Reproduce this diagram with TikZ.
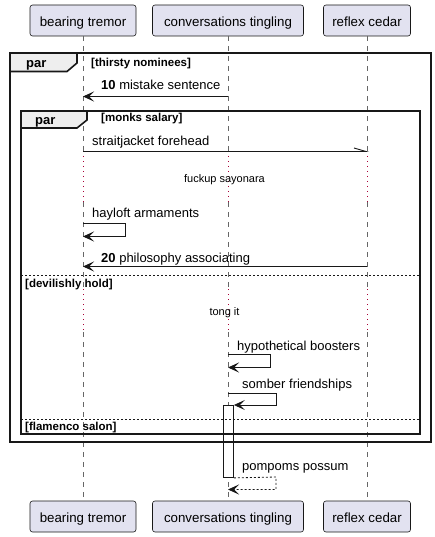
\documentclass[tikz,border=0pt]{standalone}
\usepackage{fontspec}
\setmainfont{Liberation Sans}
\usetikzlibrary{arrows.meta}
\definecolor{partfill}{HTML}{E2E2F0}
\definecolor{partdraw}{HTML}{181818}
\definecolor{tabfill}{HTML}{EEEEEE}
\definecolor{delaycol}{HTML}{A80036}
\tikzset{
  partbox/.style={draw=partdraw, fill=partfill, rounded corners=2.5pt, line width=0.6pt, minimum height=31pt, inner xsep=7pt, text height=12.5pt, text depth=0pt, font=\fontsize{13.3}{15}\selectfont},
  lifeline/.style={draw=black!60, line width=0.7pt, dash pattern=on 5pt off 5pt},
  delayline/.style={draw=delaycol, line width=0.9pt, dash pattern=on 1pt off 4pt},
  msg/.style={draw=partdraw, line width=0.9pt},
  tip/.style={-{Stealth[length=11pt,width=10pt,inset=5pt]}},
  msgtext/.style={font=\fontsize{13}{15}\selectfont, anchor=base west, inner sep=0pt},
  grouptext/.style={font=\bfseries\fontsize{11.5}{13}\selectfont, anchor=base west, inner sep=0pt},
  partext/.style={font=\bfseries\fontsize{13}{15}\selectfont, anchor=base west, inner sep=0pt},
  delaytext/.style={font=\fontsize{11}{13}\selectfont, anchor=base, inner sep=0pt},
  frame/.style={draw=partdraw, line width=1.6pt},
  sep/.style={draw=partdraw, line width=0.9pt, dash pattern=on 2pt off 2pt},
}
\begin{document}
\begin{tikzpicture}[x=1pt,y=-1pt]
\useasboundingbox (0,0) rectangle (435,537);
% participants
\node[partbox, minimum width=106pt] (bt) at (83,20.5) {bearing tremor};
\node[partbox, minimum width=151pt] (ct) at (228,20.5) {conversations tingling};
\node[partbox, minimum width=87pt] (rc) at (367,20.5) {reflex cedar};
\node[partbox, minimum width=106pt] (bt2) at (83,516.5) {bearing tremor};
\node[partbox, minimum width=151pt] (ct2) at (228,516.5) {conversations tingling};
\node[partbox, minimum width=87pt] (rc2) at (367,516.5) {reflex cedar};
% lifelines
\foreach \p/\q/\x in {bt/bt2/83, ct/ct2/228, rc/rc2/367}{
  \draw[lifeline] (\p.south) -- (\x,155);
  \draw[delayline] (\x,156) -- (\x,202);
  \draw[lifeline] (\x,202) -- (\x,288);
  \draw[delayline] (\x,289) -- (\x,332);
  \draw[lifeline] (\x,332) -- (\q.north);
}
% activation bar
\node[draw=partdraw, fill=white, line width=0.9pt, minimum width=10pt, minimum height=72pt, inner sep=0pt, anchor=north west] (act) at (223,405) {};
% outer frame
\draw[frame] (10,53) rectangle (431,442);
\draw[frame, fill=tabfill] (10,53) -- (77,53) -- (77,63) -- (67,71.5) -- (10,71.5) -- cycle;
\node[partext] (p1) at (26,68) {par};
\node[grouptext] (g1) at (91,67) {[thirsty nominees]};
% inner frame
\draw[frame] (21,111) rectangle (420,434);
\draw[frame, fill=tabfill] (21,111) -- (87,111) -- (87,120) -- (77,128) -- (21,128) -- cycle;
\node[partext] (p2) at (35,125) {par};
\node[grouptext] (g2) at (101,122) {[monks salary]};
% separators
\coordinate (s1a) at (21,275); \coordinate (s1b) at (420,275);
\draw[sep] (s1a) -- (s1b);
\node[grouptext] (g3) at (25,287) {[devilishly hold]};
\coordinate (s2a) at (21,419); \coordinate (s2b) at (420,419);
\draw[sep] (s2a) -- (s2b);
\node[grouptext] (g4) at (25,430) {[flamenco salon]};
% message 10
\coordinate (m1a) at (228,96.5); \coordinate (m1b) at (83,96.5);
\draw[msg, tip] (m1a) -- (m1b);
\node[msgtext] (t1) at (101,90) {\textbf{10} mistake sentence};
% straitjacket
\coordinate (m2a) at (83,151.5); \coordinate (m2b) at (366,151.5); \coordinate (m2c) at (354,148);
\draw[msg] (m2a) -- (m2b) -- (m2c);
\node[msgtext] (t2) at (92,146) {straitjacket forehead};
% delay 1
\node[delaytext] (d1) at (224.5,183) {fuckup sayonara};
% hayloft
\coordinate (m3a) at (83,223.5); \coordinate (m3b) at (125,223.5); \coordinate (m3c) at (125,236.5); \coordinate (m3d) at (83,236.5);
\draw[msg, tip] (m3a) -- (m3b) -- (m3c) -- (m3d);
\node[msgtext] (t3) at (92,218) {hayloft armaments};
% 20
\coordinate (m4a) at (367,266.5); \coordinate (m4b) at (83,266.5);
\draw[msg, tip] (m4a) -- (m4b);
\node[msgtext] (t4) at (101,262) {\textbf{20} philosophy associating};
% delay 2
\node[delaytext] (d2) at (224.5,315) {tong it};
% hypothetical
\coordinate (m5a) at (228,354.5); \coordinate (m5b) at (270,354.5); \coordinate (m5c) at (270,367.5); \coordinate (m5d) at (228,367.5);
\draw[msg, tip] (m5a) -- (m5b) -- (m5c) -- (m5d);
\node[msgtext] (t5) at (237,350) {hypothetical boosters};
% somber
\coordinate (m6a) at (228,393.5); \coordinate (m6b) at (276,393.5); \coordinate (m6c) at (276,405);
\draw[msg, tip] (m6a) -- (m6b) -- (m6c) -- (act.north east);
\node[msgtext] (t6) at (242,388) {somber friendships};
% pompoms
\coordinate (m7b) at (276,477); \coordinate (m7c) at (276,489.5); \coordinate (m7d) at (228,489.5);
\draw[msg, tip, line width=0.8pt, dash pattern=on 2pt off 2pt] (act.south east) -- (m7b) -- (m7c) -- (m7d);
\node[msgtext] (t7) at (242,470) {pompoms possum};
\end{tikzpicture}
\end{document}
